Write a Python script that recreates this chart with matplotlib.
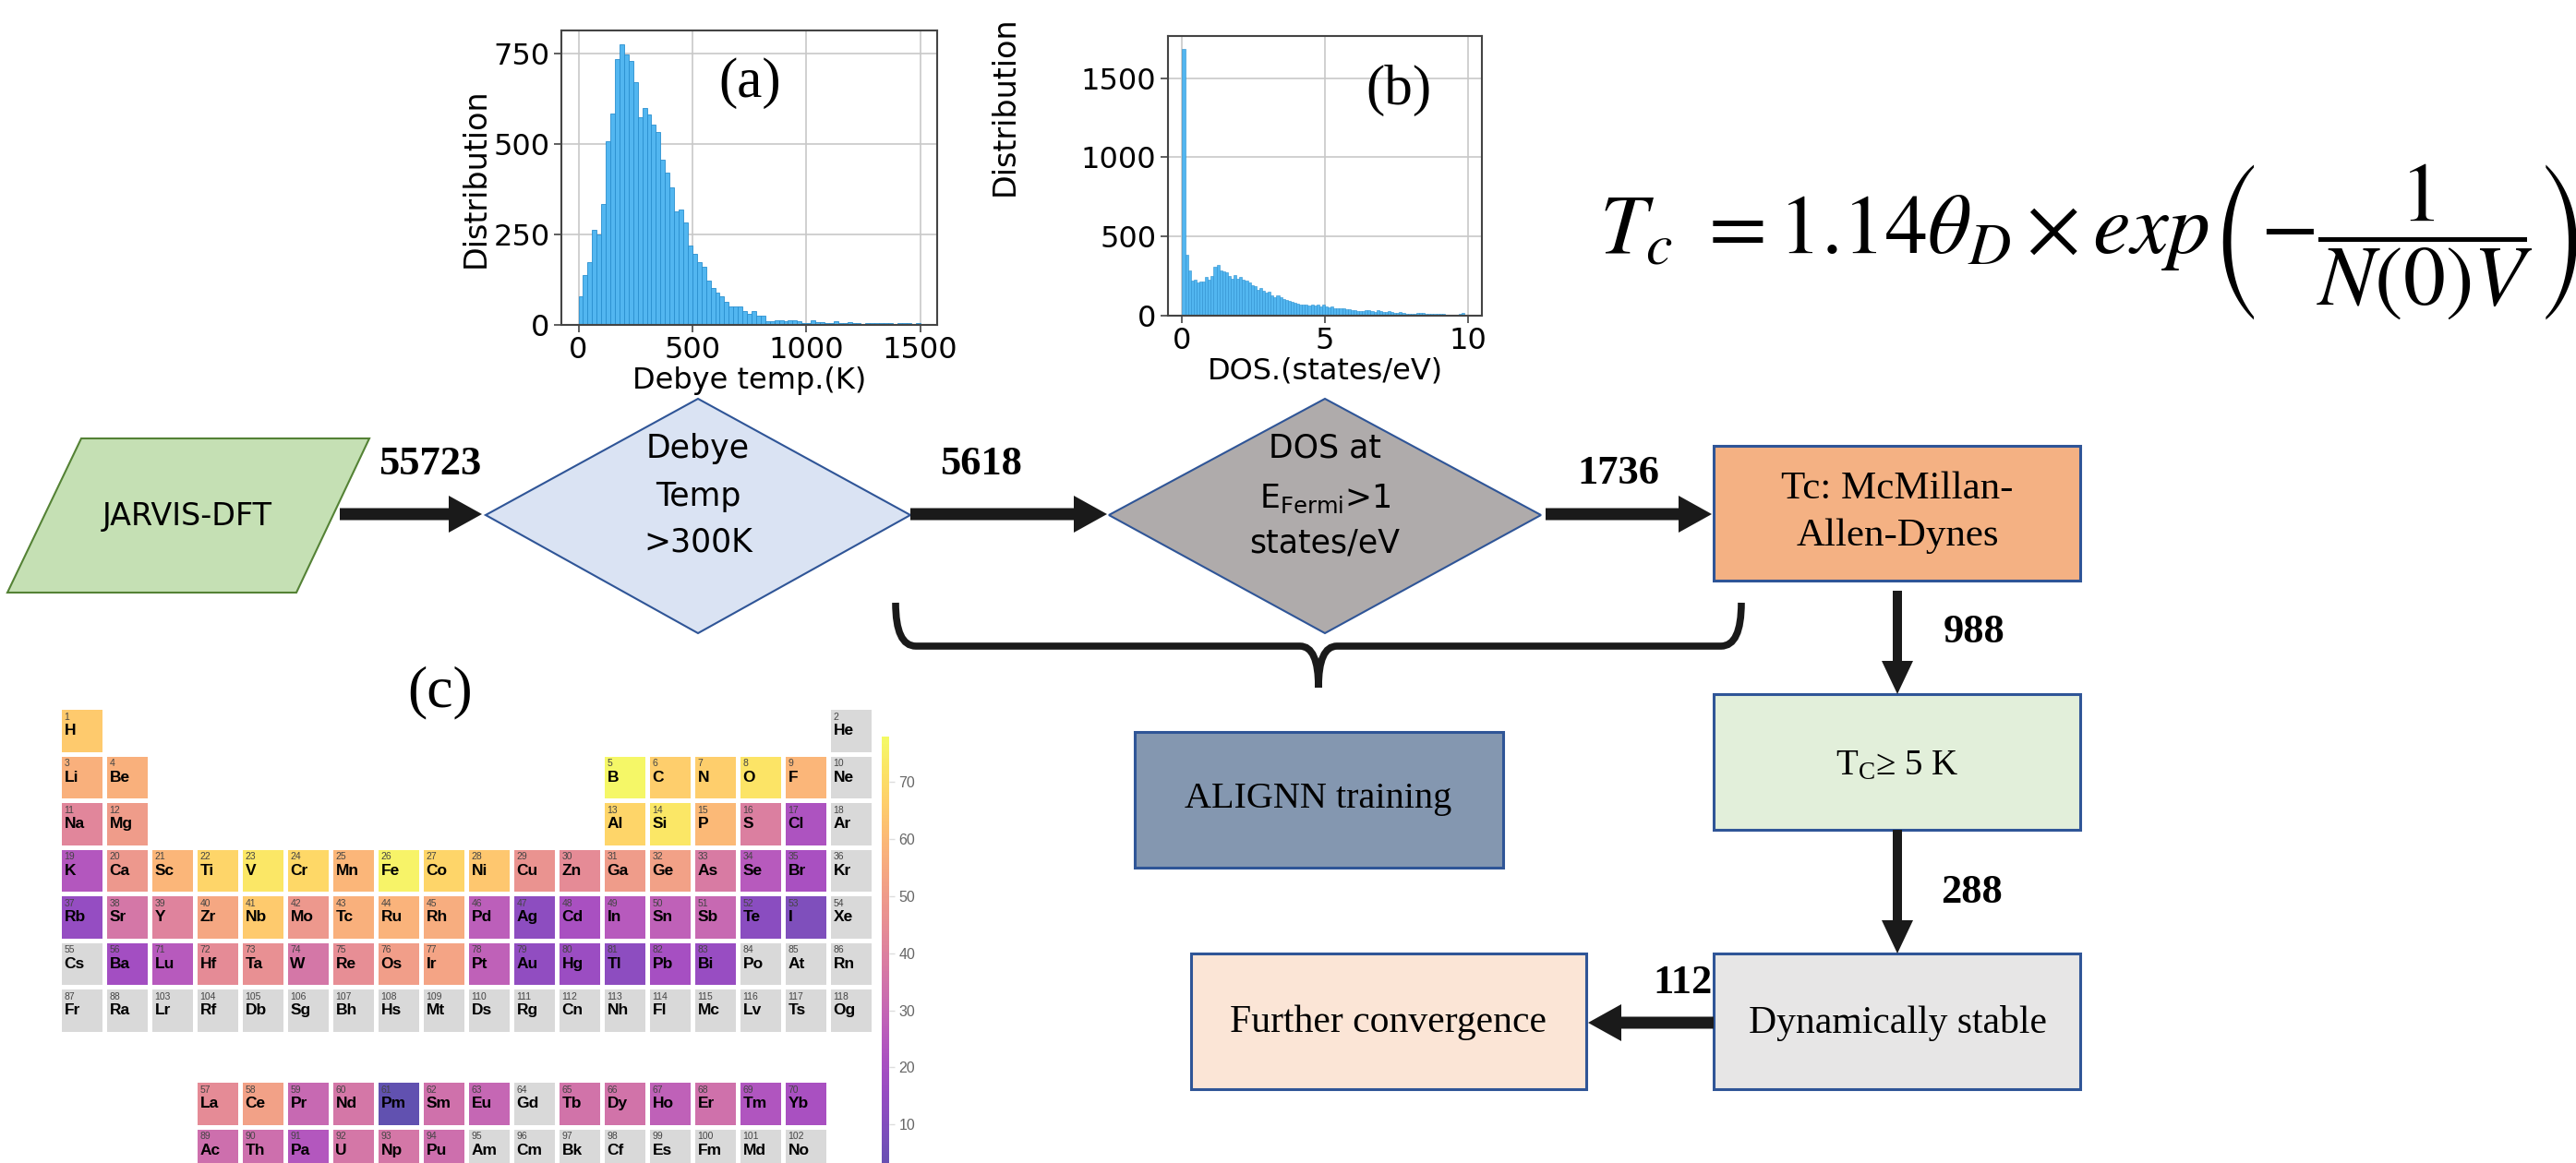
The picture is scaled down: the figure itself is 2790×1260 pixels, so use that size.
import numpy as np
import matplotlib.pyplot as plt
from matplotlib.patches import Polygon, Rectangle, FancyArrow, PathPatch
from matplotlib.path import Path
from matplotlib import cm, colors

plt.rcParams['mathtext.fontset'] = 'stix'

# ---------------- data ----------------
# (a) Debye temperature histogram, 20 K bins from 0 K
debye_bin_width = 20
debye_counts = [79, 139, 173, 264, 250, 335, 508, 585, 736, 776,
                748, 731, 673, 574, 599, 582, 554, 535, 457, 422,
                380, 314, 320, 284, 220, 196, 174, 162, 123, 101,
                89, 79, 63, 51, 51, 51, 38, 30, 39, 26,
                26, 11, 11, 12, 12, 11, 13, 13, 11, 5,
                6, 12, 7, 8, 5, 6, 10, 5, 6, 8,
                5, 4, 3, 4, 6, 5, 4, 6, 4, 3,
                4, 5, 4, 3, 4]

# (b) DOS at Fermi level histogram, 0.1 states/eV bins from 0
dos_bin_width = 0.1
dos_counts = [1681, 384, 286, 224, 228, 208, 214, 214, 247, 228,
              253, 306, 318, 286, 282, 273, 253, 234, 257, 234,
              247, 228, 220, 208, 195, 185, 166, 175, 156, 146,
              150, 131, 117, 131, 117, 107, 97, 92, 88, 84,
              78, 72, 68, 72, 64, 68, 64, 68, 58, 68,
              58, 53, 58, 49, 49, 49, 49, 43, 39, 33,
              33, 30, 30, 30, 33, 37, 30, 25, 33, 30,
              25, 21, 30, 25, 19, 17, 21, 17, 14, 14,
              14, 14, 17, 15, 17, 14, 14, 12, 10, 10,
              10, 10, 8, 8, 6, 8, 6, 10, 20, 5]

# flowchart
flow_counts = ['55723', '5618', '1736', '988', '288', '112']

# (c) periodic table
pt_rows = [
    "H . . . . . . . . . . . . . . . . He",
    "Li Be . . . . . . . . . . B C N O F Ne",
    "Na Mg . . . . . . . . . . Al Si P S Cl Ar",
    "K Ca Sc Ti V Cr Mn Fe Co Ni Cu Zn Ga Ge As Se Br Kr",
    "Rb Sr Y Zr Nb Mo Tc Ru Rh Pd Ag Cd In Sn Sb Te I Xe",
    "Cs Ba Lu Hf Ta W Re Os Ir Pt Au Hg Tl Pb Bi Po At Rn",
    "Fr Ra Lr Rf Db Sg Bh Hs Mt Ds Rg Cn Nh Fl Mc Lv Ts Og",
    "",
    ". . . La Ce Pr Nd Pm Sm Eu Gd Tb Dy Ho Er Tm Yb",
    ". . . Ac Th Pa U Np Pu Am Cm Bk Cf Es Fm Md No",
]
symbols_by_z = ("H He Li Be B C N O F Ne Na Mg Al Si P S Cl Ar K Ca Sc Ti V Cr Mn Fe "
                "Co Ni Cu Zn Ga Ge As Se Br Kr Rb Sr Y Zr Nb Mo Tc Ru Rh Pd Ag Cd In "
                "Sn Sb Te I Xe Cs Ba La Ce Pr Nd Pm Sm Eu Gd Tb Dy Ho Er Tm Yb Lu Hf "
                "Ta W Re Os Ir Pt Au Hg Tl Pb Bi Po At Rn Fr Ra Ac Th Pa U Np Pu Am "
                "Cm Bk Cf Es Fm Md No Lr Rf Db Sg Bh Hs Mt Ds Rg Cn Nh Fl Mc Lv Ts Og").split()
elem_values = {
    'H': 65, 'Li': 57, 'Be': 57, 'B': 77, 'C': 66, 'N': 66, 'O': 72, 'F': 59,
    'Na': 42, 'Mg': 50, 'Al': 68, 'Si': 73, 'P': 60, 'S': 39, 'Cl': 22,
    'K': 24, 'Ca': 49, 'Sc': 59, 'Ti': 68, 'V': 73, 'Cr': 69, 'Mn': 59, 'Fe': 76,
    'Co': 68, 'Ni': 64, 'Cu': 47, 'Zn': 44, 'Ga': 50, 'Ge': 52, 'As': 38, 'Se': 25, 'Br': 21,
    'Rb': 15, 'Sr': 36, 'Y': 41, 'Zr': 54, 'Nb': 65, 'Mo': 49, 'Tc': 57, 'Ru': 58,
    'Rh': 56, 'Pd': 27, 'Ag': 13, 'Cd': 21, 'In': 25, 'Sn': 28, 'Sb': 31, 'Te': 12, 'I': 9,
    'Ba': 19, 'Lu': 25, 'Hf': 44, 'Ta': 46, 'W': 36, 'Re': 45, 'Os': 51, 'Ir': 53,
    'Pt': 28, 'Au': 14, 'Hg': 17, 'Tl': 13, 'Pb': 20, 'Bi': 16,
    'La': 44, 'Ce': 52, 'Pr': 31, 'Nd': 36, 'Pm': 2, 'Sm': 34, 'Eu': 30, 'Tb': 35,
    'Dy': 35, 'Ho': 28, 'Er': 34, 'Tm': 23, 'Yb': 21,
    'Ac': 33, 'Th': 33, 'Pa': 24, 'U': 36, 'Np': 36, 'Pu': 33,
}
cbar_ticks = [10, 20, 30, 40, 50, 60, 70]

# ---------------- figure ----------------
W, H = 2790, 1260
fig = plt.figure(figsize=(W / 100, H / 100), dpi=100)


def px_axes(x0, y0, x1, y1):
    return fig.add_axes([x0 / W, 1 - y1 / H, (x1 - x0) / W, (y1 - y0) / H])


# overlay in pixel coordinates for the flowchart
ov = fig.add_axes([0, 0, 1, 1])
ov.set_xlim(0, W)
ov.set_ylim(H, 0)
ov.axis('off')

sans = ['Liberation Sans Narrow', 'DejaVu Sans']
serif = 'Liberation Serif'
blue_edge = '#2F5597'
arrow_c = '#1a1a1a'

ov.add_patch(Polygon([(88, 475), (400, 475), (321, 642), (8, 642)],
                     fc='#C5E0B4', ec='#548235', lw=1.5))
ov.add_patch(Polygon([(526, 558), (756, 432), (986, 558), (756, 686)],
                     fc='#DAE3F3', ec=blue_edge, lw=1.5))
ov.add_patch(Polygon([(1201, 558), (1435, 432), (1669, 558), (1435, 686)],
                     fc='#AFABAB', ec=blue_edge, lw=1.5))

boxes = [((1856, 483, 2253, 629), '#F4B183'),
         ((1856, 752, 2253, 899), '#E2EFDA'),
         ((1856, 1033, 2253, 1180), '#E7E6E6'),
         ((1290, 1033, 1718, 1180), '#FBE5D6'),
         ((1229, 793, 1628, 940), '#8497B0')]
for (x0, y0, x1, y1), fc in boxes:
    ov.add_patch(Rectangle((x0, y0), x1 - x0, y1 - y0, fc=fc, ec=blue_edge, lw=2.2))

# arrows
for x0, y0, x1, y1 in [(368, 557, 522, 557), (986, 557, 1199, 557),
                       (1674, 557, 1854, 557), (1856, 1108, 1720, 1108)]:
    ov.add_patch(FancyArrow(x0, y0, x1 - x0, y1 - y0, width=13, head_width=40,
                            head_length=36, length_includes_head=True,
                            color=arrow_c, lw=0))
for x0, y0, x1, y1 in [(2055, 640, 2055, 752), (2055, 899, 2055, 1033)]:
    ov.add_patch(FancyArrow(x0, y0, x1 - x0, y1 - y0, width=10, head_width=34,
                            head_length=36, length_includes_head=True,
                            color=arrow_c, lw=0))

# brace
brace = Path([(970, 653), (970, 700), (992, 700), (1408, 700), (1428, 700), (1428, 745),
              (1886, 653), (1886, 700), (1864, 700), (1448, 700), (1428, 700), (1428, 745)],
             [Path.MOVETO, Path.CURVE3, Path.CURVE3, Path.LINETO, Path.CURVE3, Path.CURVE3,
              Path.MOVETO, Path.CURVE3, Path.CURVE3, Path.LINETO, Path.CURVE3, Path.CURVE3])
ov.add_patch(PathPatch(brace, fc='none', ec=arrow_c, lw=5.5, capstyle='butt'))

# flowchart texts
ov.text(203, 560, 'JARVIS-DFT', family=sans, fontsize=24, ha='center', va='center')
for txt, y in [('Debye', 486), ('Temp', 538), ('>300K', 588)]:
    ov.text(756, y, txt, family=sans, fontsize=25, ha='center', va='center')
for txt, y in [('DOS at', 486), (r'$\mathregular{E_{Fermi}}$>1', 540), ('states/eV', 588)]:
    ov.text(1435, y, txt, family=sans, fontsize=25, ha='center', va='center')
ov.text(2055, 530, 'Tc: McMillan-', family=serif, fontsize=31, ha='center', va='center')
ov.text(2055, 581, 'Allen-Dynes', family=serif, fontsize=31, ha='center', va='center')
ov.text(2055, 830, r'$\mathregular{T_C}$≥ 5 K', family=serif, fontsize=28, ha='center', va='center')
ov.text(2055, 1108, 'Dynamically stable', family=serif, fontsize=30, ha='center', va='center')
ov.text(1504, 1108, 'Further convergence', family=serif, fontsize=30, ha='center', va='center')
ov.text(1428, 866, 'ALIGNN training', family=serif, fontsize=29, ha='center', va='center')

for txt, (x, y) in zip(flow_counts, [(466, 503), (1062, 503), (1753, 513),
                                      (2138, 685), (2136, 967), (1822, 1065)]):
    ov.text(x, y, txt, family=serif, fontweight='bold', fontsize=32, ha='center', va='center')

ov.text(477, 750, '(c)', family=serif, fontsize=46, ha='center', va='center')

ov.text(1732, 262, r'$T_c\ = 1.14\theta_D \times exp\left(-\dfrac{1}{N(0)V}\right)$',
        fontsize=66, ha='left', va='center')

# ---------------- histograms ----------------
bar_fc = '#52b6f0'
bar_ec = '#2a8fcf'


def style_hist(ax):
    ax.grid(True, color='#c8c8c8', lw=1.2)
    ax.set_axisbelow(True)
    for s in ax.spines.values():
        s.set_color('#444444')
        s.set_linewidth(1.5)
    ax.tick_params(labelsize=23, length=6, width=1.2, color='#444444', pad=3)


ax_a = px_axes(608, 33, 1015, 352)
edges_a = np.arange(len(debye_counts)) * debye_bin_width
ax_a.bar(edges_a, debye_counts, width=debye_bin_width, align='edge',
         fc=bar_fc, ec=bar_ec, lw=0.6)
ax_a.set_xticks([0, 500, 1000, 1500])
ax_a.set_yticks([0, 250, 500, 750])
ax_a.set_xlabel('Debye temp.(K)', fontsize=23, labelpad=1)
ax_a.set_ylabel('Distribution', fontsize=24, labelpad=2)
style_hist(ax_a)

ax_b = px_axes(1265, 39, 1605, 342)
edges_b = np.arange(len(dos_counts)) * dos_bin_width
ax_b.bar(edges_b, dos_counts, width=dos_bin_width, align='edge',
         fc=bar_fc, ec=bar_ec, lw=0.4)
ax_b.set_xticks([0, 5, 10])
ax_b.set_yticks([0, 500, 1000, 1500])
ax_b.set_xlabel('DOS.(states/eV)', fontsize=23, labelpad=1)
ax_b.set_ylabel('Distribution', fontsize=24)
ax_b.yaxis.set_label_coords(-0.47, 0.75)
style_hist(ax_b)

fig.text(812 / W, 1 - 90 / H, '(a)', family=serif, fontsize=44, ha='center', va='center')
fig.text(1515 / W, 1 - 98 / H, '(b)', family=serif, fontsize=44, ha='center', va='center')

# ---------------- periodic table ----------------
ax_pt = px_axes(67, 769, 67 + 18 * 49, 769 + 10 * 50.5)
ax_pt.set_xlim(0, 18)
ax_pt.set_ylim(10, 0)
ax_pt.axis('off')
ax_pt.patch.set_alpha(0)

cmap = plt.get_cmap('plasma')
norm = colors.Normalize(vmin=0, vmax=78)
alpha = 0.7


def soft(rgba):
    r = np.array(rgba[:3])
    return tuple(alpha * r + (1 - alpha))


for r, line in enumerate(pt_rows):
    for c, sym in enumerate(line.split()):
        if sym == '.':
            continue
        val = elem_values.get(sym)
        fc = soft(cmap(norm(val))) if val is not None else '#d9d9d9'
        ax_pt.add_patch(Rectangle((c, r), 0.9, 0.91, fc=fc, ec='none'))
        z = symbols_by_z.index(sym) + 1
        ax_pt.text(c + 0.05, r + 0.15, str(z), fontsize=7.5, color='#444444',
                   family='Liberation Sans', ha='left', va='center')
        ax_pt.text(c + 0.05, r + 0.45, sym, fontsize=12.5, fontweight='bold',
                   family='Liberation Sans', ha='left', va='center')

cax = px_axes(955, 798, 963, 1280)
sm = cm.ScalarMappable(norm=norm, cmap=cmap)
cb = fig.colorbar(sm, cax=cax, alpha=alpha)
cb.outline.set_visible(False)
cb.set_ticks(cbar_ticks)
cax.tick_params(labelsize=11.5, labelcolor='#666666', color='#dddddd', length=4, width=1)
for lab in cax.get_yticklabels():
    lab.set_family('Liberation Sans')

fig.savefig('out.png', dpi=100)
